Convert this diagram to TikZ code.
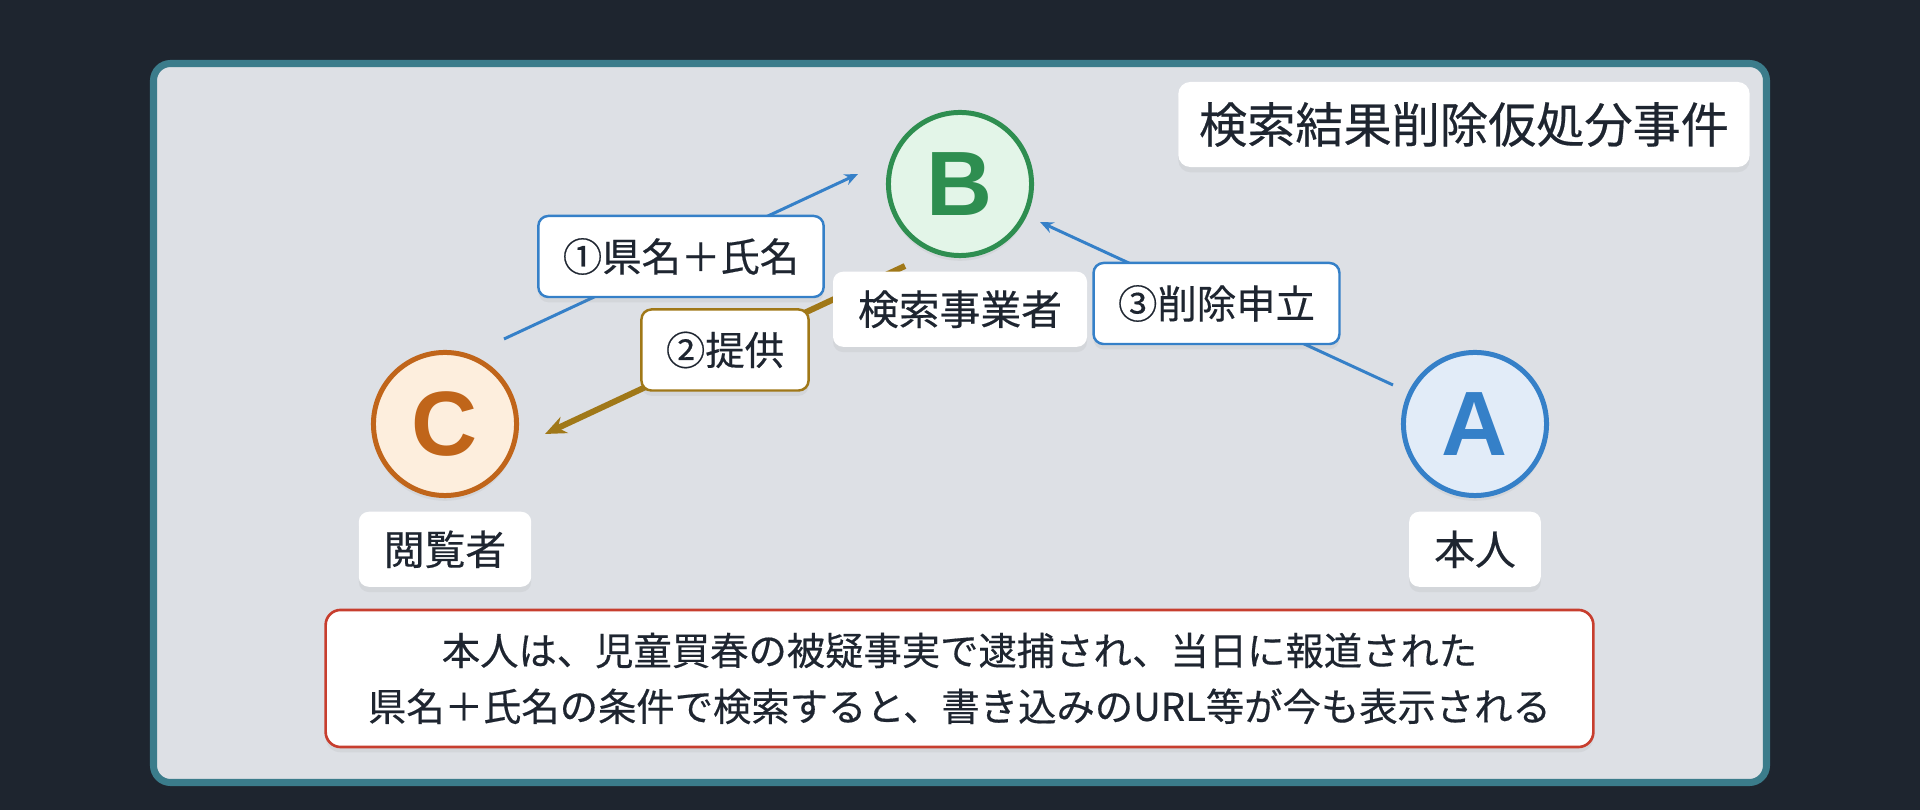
\documentclass[tikz,border=0pt]{standalone}
\usepackage{fontspec}
\setmainfont{Noto Sans CJK JP}[FakeBold=0.4]
\newfontfamily\letterfont{Liberation Sans}
\usetikzlibrary{positioning,arrows.meta,shadows}

\definecolor{bgdark}{HTML}{1E252F}
\definecolor{panelline}{HTML}{3B7C8B}
\definecolor{panelfill}{HTML}{DDE0E5}
\definecolor{ink}{HTML}{1E2530}
\definecolor{bgreen}{HTML}{2E8E50}
\definecolor{bfill}{HTML}{E3F5E8}
\definecolor{corange}{HTML}{C0651A}
\definecolor{cfill}{HTML}{FDEEDD}
\definecolor{ablue}{HTML}{3580C8}
\definecolor{afill}{HTML}{E2ECF8}
\definecolor{flowgold}{HTML}{A07818}
\definecolor{notered}{HTML}{C73E2E}

\begin{document}
\begin{tikzpicture}[x=0.01cm, y=-0.01cm]
    \fill[bgdark] (0,0) rectangle (1920,810);
    \draw[panelline, fill=panelfill, line width=2pt, rounded corners=0.17cm]
        (153.5,63.5) rectangle (1766.5,782.5);

    \tikzset{PartyStyle/.style={circle, line width=1.42pt, minimum size=1.43cm, inner sep=0pt,
        font=\letterfont\bfseries\fontsize{26}{26}\selectfont,
        drop shadow={opacity=0.10, shadow xshift=0pt, shadow yshift=-1.5pt}}}
    \node[PartyStyle, draw=bgreen, fill=bfill, text=bgreen] (B) at (960,184) {B};
    \node[PartyStyle, draw=corange, fill=cfill, text=corange] (C) at (445,424) {C};
    \node[PartyStyle, draw=ablue, fill=afill, text=ablue] (A) at (1475,424) {A};

    \tikzset{StepStyle/.style={fill=white, line width=0.7pt, rounded corners=0.1cm,
        inner xsep=0.245cm, inner ysep=0pt, minimum height=0.81cm, text=ink,
        font=\fontsize{11.2}{13}\selectfont,
        drop shadow={opacity=0.10, shadow xshift=0pt, shadow yshift=-1.5pt}}}
    \tikzset{FlowStyle/.style={-{Stealth[length=3.8pt, width=3.2pt]}, line width=0.85pt, draw=ablue}}
    \draw[FlowStyle] ([shift={(59,-85)}]C.center) --
        node[StepStyle, draw=ablue] (step1) {①県名＋氏名} ([shift={(-102,-10)}]B.center);
    \draw[FlowStyle, draw=flowgold, line width=1.7pt, -{Stealth[length=6pt, width=5pt]}]
        ([shift={(-55,82)}]B.center) --
        node[StepStyle, draw=flowgold] (step2) {②提供} ([shift={(100,10)}]C.center);
    \draw[FlowStyle] ([shift={(-82,-39)}]A.center) --
        node[StepStyle, draw=ablue] (step3) {③削除申立} ([shift={(80,38)}]B.center);

    \tikzset{RoleStyle/.style={fill=white, rounded corners=0.1cm, inner xsep=0.25cm, inner ysep=0pt,
        minimum height=0.75cm, text=ink, font=\fontsize{11.6}{13}\selectfont,
        drop shadow={opacity=0.10, shadow xshift=0pt, shadow yshift=-1.5pt}}}
    \node[RoleStyle, below=0.13cm of B] (roleB) {検索事業者};
    \node[RoleStyle, below=0.13cm of C] (roleC) {閲覧者};
    \node[RoleStyle, below=0.13cm of A] (roleA) {本人};

    % case title
    \node[RoleStyle, rounded corners=0.12cm, inner xsep=0.2cm, minimum width=5.71cm, minimum height=0.85cm,
        font=\fontsize{13.7}{16}\selectfont] (title) at (1464,124.5) {検索結果削除仮処分事件};

    % facts
    \node[RoleStyle, draw=notered, line width=0.75pt, rounded corners=0.15cm,
        minimum width=12.67cm, minimum height=1.37cm, align=center,
        font=\fontsize{10.9}{15.9}\selectfont] (facts) at (959.5,678.5)
        {本人は、児童買春の被疑事実で逮捕され、当日に報道された\\
         県名＋氏名の条件で検索すると、書き込みのURL等が今も表示される};
\end{tikzpicture}
\end{document}
